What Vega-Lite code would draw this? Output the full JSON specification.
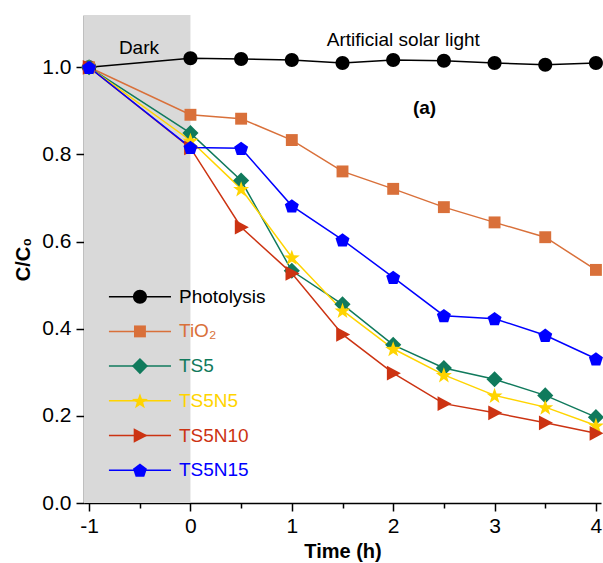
{
  "$schema": "https://vega.github.io/schema/vega-lite/v6.json",
  "width": 517,
  "height": 488,
  "autosize": "none",
  "padding": {"left": 84, "top": 15, "right": 2, "bottom": 60},
  "background": "white",
  "config": {
    "font": "Liberation Sans",
    "view": {"stroke": null},
    "axis": {
      "grid": false,
      "domainColor": "#000000",
      "domainWidth": 1.5,
      "tickColor": "#000000",
      "tickWidth": 1.5,
      "labelColor": "#000000",
      "labelFontSize": 21,
      "labelFont": "Liberation Sans",
      "titleFont": "Liberation Sans",
      "titleFontSize": 20,
      "titleFontWeight": "bold",
      "titleColor": "#000000"
    }
  },
  "datasets": {
    "series": [
      {"s": "Photolysis", "t": -1, "c": 1.0},
      {"s": "Photolysis", "t": 0, "c": 1.021},
      {"s": "Photolysis", "t": 0.5, "c": 1.019},
      {"s": "Photolysis", "t": 1, "c": 1.017},
      {"s": "Photolysis", "t": 1.5, "c": 1.010},
      {"s": "Photolysis", "t": 2, "c": 1.017},
      {"s": "Photolysis", "t": 2.5, "c": 1.015},
      {"s": "Photolysis", "t": 3, "c": 1.010},
      {"s": "Photolysis", "t": 3.5, "c": 1.006},
      {"s": "Photolysis", "t": 4, "c": 1.010},
      {"s": "TiO₂", "t": -1, "c": 1.0},
      {"s": "TiO₂", "t": 0, "c": 0.891},
      {"s": "TiO₂", "t": 0.5, "c": 0.882},
      {"s": "TiO₂", "t": 1, "c": 0.833},
      {"s": "TiO₂", "t": 1.5, "c": 0.761},
      {"s": "TiO₂", "t": 2, "c": 0.721},
      {"s": "TiO₂", "t": 2.5, "c": 0.679},
      {"s": "TiO₂", "t": 3, "c": 0.644},
      {"s": "TiO₂", "t": 3.5, "c": 0.610},
      {"s": "TiO₂", "t": 4, "c": 0.535},
      {"s": "TS5", "t": -1, "c": 1.0},
      {"s": "TS5", "t": 0, "c": 0.849},
      {"s": "TS5", "t": 0.5, "c": 0.740},
      {"s": "TS5", "t": 1, "c": 0.533},
      {"s": "TS5", "t": 1.5, "c": 0.456},
      {"s": "TS5", "t": 2, "c": 0.363},
      {"s": "TS5", "t": 2.5, "c": 0.310},
      {"s": "TS5", "t": 3, "c": 0.284},
      {"s": "TS5", "t": 3.5, "c": 0.247},
      {"s": "TS5", "t": 4, "c": 0.197},
      {"s": "TS5N5", "t": -1, "c": 1.0},
      {"s": "TS5N5", "t": 0, "c": 0.832},
      {"s": "TS5N5", "t": 0.5, "c": 0.721},
      {"s": "TS5N5", "t": 1, "c": 0.564},
      {"s": "TS5N5", "t": 1.5, "c": 0.442},
      {"s": "TS5N5", "t": 2, "c": 0.354},
      {"s": "TS5N5", "t": 2.5, "c": 0.294},
      {"s": "TS5N5", "t": 3, "c": 0.247},
      {"s": "TS5N5", "t": 3.5, "c": 0.220},
      {"s": "TS5N5", "t": 4, "c": 0.178},
      {"s": "TS5N10", "t": -1, "c": 1.0},
      {"s": "TS5N10", "t": 0, "c": 0.815},
      {"s": "TS5N10", "t": 0.5, "c": 0.633},
      {"s": "TS5N10", "t": 1, "c": 0.527},
      {"s": "TS5N10", "t": 1.5, "c": 0.387},
      {"s": "TS5N10", "t": 2, "c": 0.298},
      {"s": "TS5N10", "t": 2.5, "c": 0.228},
      {"s": "TS5N10", "t": 3, "c": 0.207},
      {"s": "TS5N10", "t": 3.5, "c": 0.184},
      {"s": "TS5N10", "t": 4, "c": 0.160},
      {"s": "TS5N15", "t": -1, "c": 1.0},
      {"s": "TS5N15", "t": 0, "c": 0.816},
      {"s": "TS5N15", "t": 0.5, "c": 0.814},
      {"s": "TS5N15", "t": 1, "c": 0.682},
      {"s": "TS5N15", "t": 1.5, "c": 0.604},
      {"s": "TS5N15", "t": 2, "c": 0.518},
      {"s": "TS5N15", "t": 2.5, "c": 0.430},
      {"s": "TS5N15", "t": 3, "c": 0.423},
      {"s": "TS5N15", "t": 3.5, "c": 0.385},
      {"s": "TS5N15", "t": 4, "c": 0.331}
    ]
  },
  "resolve": {"scale": {"y": "independent"}},
  "layer": [
    {
      "layer": [
        {
          "data": {"values": [{"x1": -1.05, "x2": 0, "y1": 0, "y2": 1.12}]},
          "mark": {"type": "rect", "color": "#d9d9d9"},
          "encoding": {
            "x": {"field": "x1", "type": "quantitative", "scale": {"domain": [-1.05, 4.05], "nice": false, "zero": false},
              "title": "Time (h)",
              "axis": {
                "values": [-1, -0.5, 0, 0.5, 1, 1.5, 2, 2.5, 3, 3.5, 4],
                "tickSize": {"condition": {"test": "datum.value % 1 !== 0", "value": 5}, "value": 8},
                "labelExpr": "datum.value % 1 === 0 ? '' + datum.value : ''",
                "labelPadding": 4,
                "labelOverlap": false,
                "titlePadding": 5
              }},
            "x2": {"field": "x2"},
            "y": {"field": "y1", "type": "quantitative", "scale": {"domain": [0, 1.12], "nice": false, "zero": false},
              "title": "C/C₀",
              "axis": {"values": [0, 0.2, 0.4, 0.6, 0.8, 1.0], "format": ".1f", "tickSize": 8, "labelPadding": 5, "titlePadding": 8}},
            "y2": {"field": "y2"}
          }
        },
        {
          "data": {"name": "series"},
          "mark": {"type": "line", "strokeWidth": 1.5},
          "encoding": {
            "x": {"field": "t", "type": "quantitative"},
            "y": {"field": "c", "type": "quantitative"},
            "stroke": {"field": "s", "type": "nominal", "legend": null,
              "scale": {"domain": ["Photolysis", "TiO₂", "TS5", "TS5N5", "TS5N10", "TS5N15"],
                "range": ["#000000", "#d9703a", "#107a5c", "#ffd400", "#cc3312", "#0000ff"]}}
          }
        },
        {
          "data": {"name": "series"},
          "mark": {"type": "point", "filled": true, "size": 196, "opacity": 1},
          "encoding": {
            "x": {"field": "t", "type": "quantitative"},
            "y": {"field": "c", "type": "quantitative"},
            "color": {"field": "s", "type": "nominal", "legend": null,
              "scale": {"domain": ["Photolysis", "TiO₂", "TS5", "TS5N5", "TS5N10", "TS5N15"],
                "range": ["#000000", "#d9703a", "#107a5c", "#ffd400", "#cc3312", "#0000ff"]}},
            "shape": {"field": "s", "type": "nominal", "legend": null,
              "scale": {"domain": ["Photolysis", "TiO₂", "TS5", "TS5N5", "TS5N10", "TS5N15"],
                "range": [
                  "M1,0A1,1,0,1,1,-1,0A1,1,0,1,1,1,0Z",
                  "M-0.85,-0.85H0.85V0.85H-0.85Z",
                  "M0,-1.15L1.15,0L0,1.15L-1.15,0Z",
                  "M0,-1.09L0.282,-0.278L1.141,-0.261L0.457,0.258L0.705,1.081L0,0.59L-0.705,1.081L-0.457,0.258L-1.141,-0.261L-0.282,-0.278Z",
                  "M-0.9,-1.05L1.1,0L-0.9,1.05Z",
                  "M0,-0.95L0.999,-0.224L0.617,0.949L-0.617,0.949L-0.999,-0.224Z"
                ]}}
          }
        },
        {
          "data": {"values": [
            {"x": -0.508, "y": 1.045, "label": "Dark"},
            {"x": 2.10, "y": 1.063, "label": "Artificial solar light"}
          ]},
          "mark": {"type": "text", "fontSize": 19, "font": "Liberation Sans", "color": "#000000", "baseline": "middle", "align": "center"},
          "encoding": {
            "x": {"field": "x", "type": "quantitative"},
            "y": {"field": "y", "type": "quantitative"},
            "text": {"field": "label"}
          }
        },
        {
          "data": {"values": [{"x": 2.309, "y": 0.906, "label": "(a)"}]},
          "mark": {"type": "text", "fontSize": 19, "fontWeight": "bold", "font": "Liberation Sans", "color": "#000000", "baseline": "middle", "align": "center"},
          "encoding": {
            "x": {"field": "x", "type": "quantitative"},
            "y": {"field": "y", "type": "quantitative"},
            "text": {"field": "label"}
          }
        }
      ]
    },
    {
      "data": {"name": "series"},
      "transform": [{"filter": "datum.t === -1"}],
      "encoding": {
        "y": {"field": "s", "type": "nominal", "axis": null,
          "scale": {"type": "point", "domain": ["Photolysis", "TiO₂", "TS5", "TS5N5", "TS5N10", "TS5N15"], "range": [281.7, 455.2], "padding": 0}}
      },
      "layer": [
        {
          "mark": {"type": "rule", "strokeWidth": 1.5},
          "encoding": {
            "x": {"datum": -0.804},
            "x2": {"datum": -0.192},
            "stroke": {"field": "s", "type": "nominal", "legend": null}
          }
        },
        {
          "mark": {"type": "point", "filled": true, "size": 196, "opacity": 1},
          "encoding": {
            "x": {"datum": -0.498},
            "color": {"field": "s", "type": "nominal", "legend": null},
            "shape": {"field": "s", "type": "nominal", "legend": null}
          }
        },
        {
          "mark": {"type": "text", "fontSize": 19, "font": "Liberation Sans", "align": "left", "baseline": "middle"},
          "encoding": {
            "x": {"datum": -0.113},
            "text": {"field": "s"},
            "color": {"field": "s", "type": "nominal", "legend": null}
          }
        }
      ]
    }
  ]
}
